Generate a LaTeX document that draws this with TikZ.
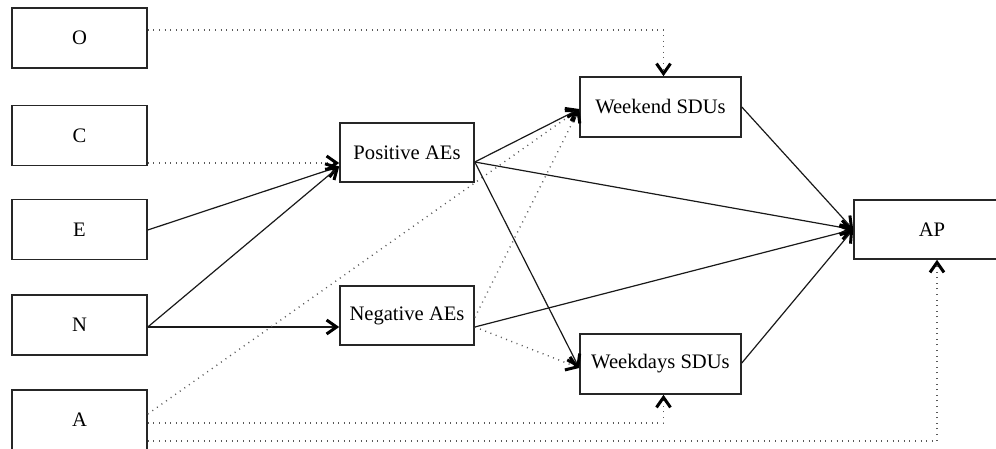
\documentclass[tikz,border=0pt]{standalone}
\usepackage{fontspec}
\setmainfont{Liberation Serif}
\usetikzlibrary{arrows.meta,calc}
\begin{document}
\begin{tikzpicture}[x=0.5pt,y=-0.5pt,
  box/.style={draw=black!85,line width=0.8pt,fill=white,inner sep=0pt,font=\fontsize{10.3}{12}\selectfont},
  lbox/.style={box,minimum width=67.5pt,minimum height=30pt},
  mbox/.style={box,minimum width=67pt,minimum height=29.5pt},
  rbox/.style={box,minimum width=80.5pt,minimum height=30pt},
  tip/.style={-{Straight Barb[length=5pt,width=7pt,line width=1.5pt,color=black]}},
  sol/.style={tip,line width=0.6pt,black!90},
  dot/.style={tip,line width=0.7pt,black!65,dash pattern=on 0.5pt off 2.3pt}]
\useasboundingbox (0,0) rectangle (996,449);
\clip (0,0) rectangle (996,449);
\node[lbox] (O) at (79.5,38) {O};
\node[lbox] (C) at (79.5,135.5) {C};
\node[lbox] (E) at (79.5,229.5) {E};
\node[lbox] (N) at (79.5,325) {N};
\node[lbox] (A) at (79.5,420) {A};
\node[mbox] (pos) at (407,152.5) {Positive AEs};
\node[mbox] (neg) at (407,315.5) {Negative AEs};
\node[rbox] (wkend) at (660.5,107) {Weekend SDUs};
\node[rbox] (wkday) at (660.5,364) {Weekdays SDUs};
\node[box,minimum width=78pt,minimum height=29.5pt] (ap) at (932,229.5) {AP};
% from personality traits
\draw[dot] ($(O.east)+(0,-8)$) -| ($(wkend.north)+(3,0)$);
\draw[dot] ($(C.east)+(0,27.5)$) -- ($(pos.west)+(0,10.5)$);
\draw[sol] ($(E.east)+(0,0.5)$) -- ($(pos.west)+(0,14)$);
\draw[sol] ($(N.east)+(0,2)$) -- ($(pos.west)+(0,14)$);
\draw[sol] ($(N.east)+(0,2)$) -- ($(neg.west)+(0,11.5)$);
\draw[dot] ($(A.east)+(0,-6)$) -- ($(wkend.west)+(0,2)$);
\draw[dot] ($(A.east)+(0,3)$) -| ($(wkday.south)+(3,0)$);
\draw[dot] ($(A.east)+(0,21)$) -| ($(ap.south)+(5,0)$);
% from affective experiences
\draw[sol] ($(pos.east)+(0,9.5)$) -- ($(wkend.west)+(0,2)$);
\draw[sol] ($(pos.east)+(0,9.5)$) -- (ap.west);
\draw[sol] ($(pos.east)+(0,9.5)$) -- ($(wkday.west)+(0,4)$);
\draw[dot] ($(neg.east)+(0,2)$) -- ($(wkend.west)+(0,2)$);
\draw[sol] ($(neg.east)+(0,11.5)$) -- (ap.west);
\draw[dot] ($(neg.east)+(0,11.5)$) -- ($(wkday.west)+(0,4)$);
% to AP
\draw[sol] (wkend.east) -- (ap.west);
\draw[sol] ($(wkday.east)+(0,-1)$) -- (ap.west);
\end{tikzpicture}
\end{document}
